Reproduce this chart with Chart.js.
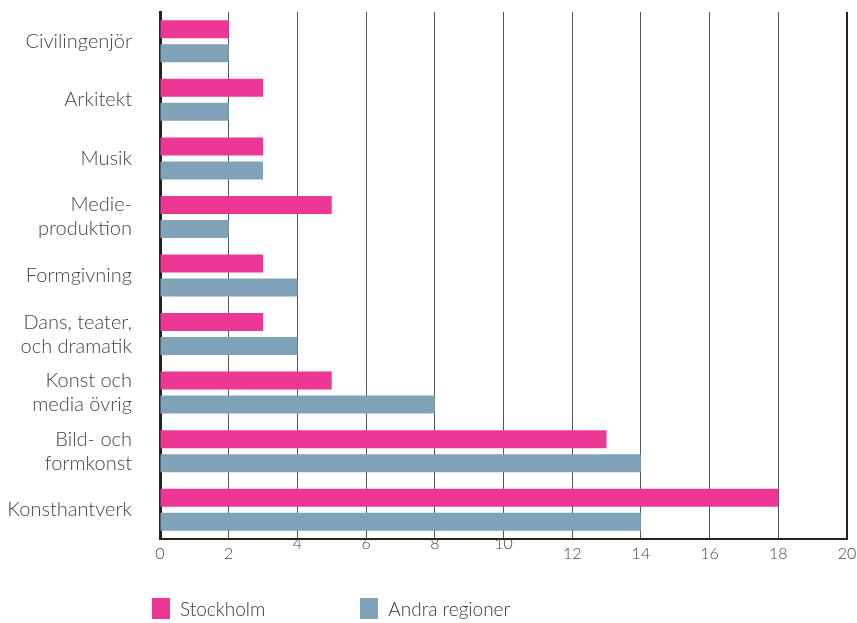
<!DOCTYPE html>
<html><head><meta charset="utf-8">
<script src="https://cdn.jsdelivr.net/npm/chart.js@4.4.1/dist/chart.umd.min.js"></script>
<style>
html,body{margin:0;padding:0;background:#fff;overflow:hidden;}
#wrap{position:relative;width:857px;height:623px;}
canvas{display:block;}
#legend{position:absolute;left:152px;top:597px;display:flex;font-family:Lato,"Open Sans",sans-serif;font-size:19px;color:#333;font-weight:300;}
.item{display:flex;align-items:center;margin-right:95px;}
.box{width:18px;height:21px;margin-right:10px;}
</style></head>
<body><div id="wrap"><canvas id="c" width="857" height="623"></canvas><div id="legend"></div></div>
<script>
const categories = [["Civilingenjör"],["Arkitekt"],["Musik"],["Medie-","produktion"],["Formgivning"],["Dans, teater,","och dramatik"],["Konst och","media övrig"],["Bild- och","formkonst"],["Konsthantverk"]];
const stockholm = [2,3,3,5,3,3,5,13,18];
const andra = [2,2,3,2,4,4,8,14,14];
const seriesNames = ["Stockholm","Andra regioner"];
const seriesColors = ["#EC3894","#7FA2B8"];
const xTicks = [0,2,4,6,8,10,12,14,16,18,20];
const raisedTicks = [4,6,8,10];

const ctx = document.getElementById('c');
const chart = new Chart(ctx,{
  type:'bar',
  data:{labels:categories,datasets:[
    {label:seriesNames[0],data:stockholm,backgroundColor:seriesColors[0],categoryPercentage:0.82,barPercentage:0.75},
    {label:seriesNames[1],data:andra,backgroundColor:seriesColors[1],categoryPercentage:0.82,barPercentage:0.75}
  ]},
  options:{
    indexAxis:'y',responsive:false,animation:false,
    devicePixelRatio:1,
    layout:{padding:{top:12,right:0,bottom:51,left:0}},
    plugins:{legend:{display:false},tooltip:{enabled:false}},
    scales:{
      x:{min:0,max:20,
        afterBuildTicks:(ax)=>{ax.ticks=xTicks.map(v=>({value:v}));},
        afterFit:(s)=>{s.paddingRight=10;s.paddingLeft=0;s.height=33;},
        grid:{color:'#555',lineWidth:1,drawTicks:false},
        border:{display:true,color:'#222',width:2},
        ticks:{color:'#444',padding:0,font:{family:'Lato',size:16,weight:300,lineHeight:0.62},
          callback:(v)=>raisedTicks.includes(v)?[String(v),'']:['',String(v)]}
      },
      y:{
        afterFit:(s)=>{s.paddingTop=0;s.paddingBottom=0;s.width=160;},
        grid:{display:false},
        border:{display:true,color:'#222',width:3},
        ticks:{color:'#444',padding:20,font:{family:'Lato',size:20,weight:300,lineHeight:1.2}}
      }
    }
  },
  plugins:[{id:'rightBorder',afterDraw(c){const a=c.chartArea,g=c.ctx;g.save();g.strokeStyle='#222';g.lineWidth=2;g.beginPath();g.moveTo(a.right,a.top);g.lineTo(a.right,a.bottom);g.stroke();g.restore();}}]
});
const lg=document.getElementById('legend');
chart.data.datasets.forEach(d=>{const it=document.createElement('div');it.className='item';const b=document.createElement('div');b.className='box';b.style.background=d.backgroundColor;const t=document.createElement('span');t.textContent=d.label;it.appendChild(b);it.appendChild(t);lg.appendChild(it);});
</script></body></html>
